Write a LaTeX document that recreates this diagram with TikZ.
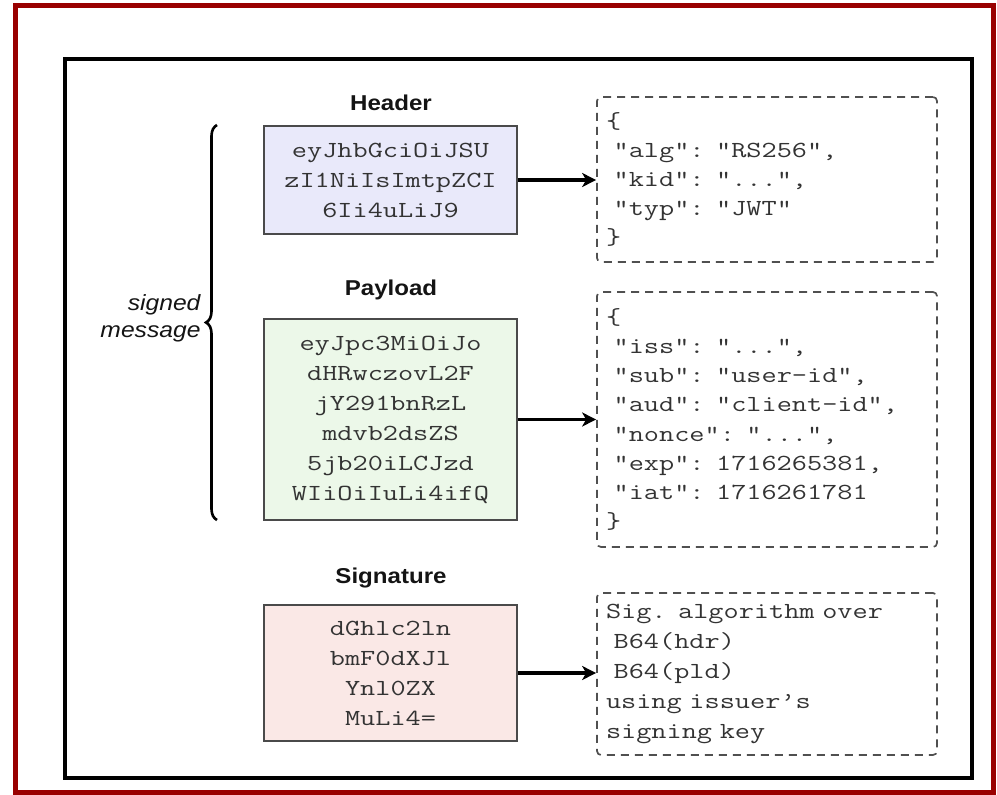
\documentclass[tikz,border=0pt]{standalone}
\usepackage{fontspec}
\setmainfont{Liberation Sans}
\setmonofont[FakeStretch=1.28]{Latin Modern Mono}
\newfontfamily\headfont[FakeStretch=1.12]{Liberation Sans}
\usetikzlibrary{arrows.meta,decorations.pathreplacing}

\definecolor{framered}{HTML}{990000}
\definecolor{codetext}{HTML}{333333}
\definecolor{headtext}{HTML}{141414}
\definecolor{boxline}{HTML}{4A4A4A}
\definecolor{dashline}{HTML}{505050}
\definecolor{hdrfill}{HTML}{E9E9FA}
\definecolor{pldfill}{HTML}{ECF8E9}
\definecolor{sigfill}{HTML}{FAE8E6}

\begin{document}
\begin{tikzpicture}[x=1pt,y=-1pt,
  tokenbox/.style={draw=boxline, line width=1.6pt, minimum width=253pt,
    align=center, inner sep=0pt, text=codetext,
    font=\ttfamily\fontsize{23}{30}\selectfont},
  claimbox/.style={draw=dashline, line width=1.7pt, dash pattern=on 8pt off 6pt,
    rounded corners=4pt, text width=322pt, inner xsep=9pt, inner ysep=0pt,
    align=left, text=codetext},
  jsonfont/.style={font=\ttfamily\fontsize{23}{29.2}\selectfont},
  sigfont/.style={font=\ttfamily\fontsize{23}{30}\selectfont},
  parttitle/.style={anchor=base, text=headtext,
    font=\headfont\bfseries\fontsize{21.5}{26}\selectfont},
  flow/.style={line width=3.2pt, -{Stealth[length=14pt,width=14pt,inset=4pt]}},
]
\useasboundingbox (0,0) rectangle (997,795);

% outer frames
\draw[framered, line width=5pt] (15.5,5.5) rectangle (993.5,792.5);
\draw[black, line width=4pt] (65,59) rectangle (972,778);

% section titles
\node[parttitle] (thdr) at (391,110) {Header};
\node[parttitle] (tpld) at (391,295) {Payload};
\node[parttitle] (tsig) at (391,583) {Signature};

% encoded token parts
\node[tokenbox, fill=hdrfill, minimum height=108pt] (hdr) at (390.5,180)
  {eyJhbGciOiJSU\\zI1NiIsImtpZCI\\6Ii4uLiJ9};
\node[tokenbox, fill=pldfill, minimum height=201pt] (pld) at (390.5,419.5)
  {eyJpc3MiOiJo\\dHRwczovL2F\\jY291bnRzL\\mdvb2dsZS\\5jb20iLCJzd\\WIiOiIuLi4ifQ};
\node[tokenbox, fill=sigfill, minimum height=136pt] (sig) at (390.5,673)
  {dGhlc2ln\\bmF0dXJl\\Ynl0ZX\\MuLi4=};

% decoded contents
\node[claimbox, jsonfont, minimum height=165pt] (hj) at (767,179.5)
  {\{\\~"alg": "RS256",\\~"kid": "...",\\~"typ": "JWT"\\\}};
\node[claimbox, jsonfont, minimum height=255pt] (pj) at (767,419.5)
  {\{\\~"iss": "...",\\~"sub": "user-id",\\~"aud": "client-id",\\~"nonce": "...",\\~"exp": 1716265381,\\~"iat": 1716261781\\\}};
\node[claimbox, sigfont, minimum height=162pt] (sj) at (767,674)
  {Sig. algorithm over\\~B64(hdr)\\~B64(pld)\\using issuer’s\\signing key};

% connectors
\draw[flow] (hdr.east) -- (hdr.east -| hj.west);
\draw[flow] (pld.east) -- (pld.east -| pj.west);
\draw[flow] (sig.east) -- (sig.east -| sj.west);

% brace over header and payload
\coordinate (bt) at (217,125);
\coordinate (bb) at (217,520);
\draw[line width=2.6pt, decorate, decoration={brace, amplitude=11pt}] (bb) -- (bt);
\node[anchor=east, align=right, text=headtext,
  font=\headfont\itshape\fontsize{22}{27}\selectfont] (msg) at (204,318) {signed\\message};
\end{tikzpicture}
\end{document}
